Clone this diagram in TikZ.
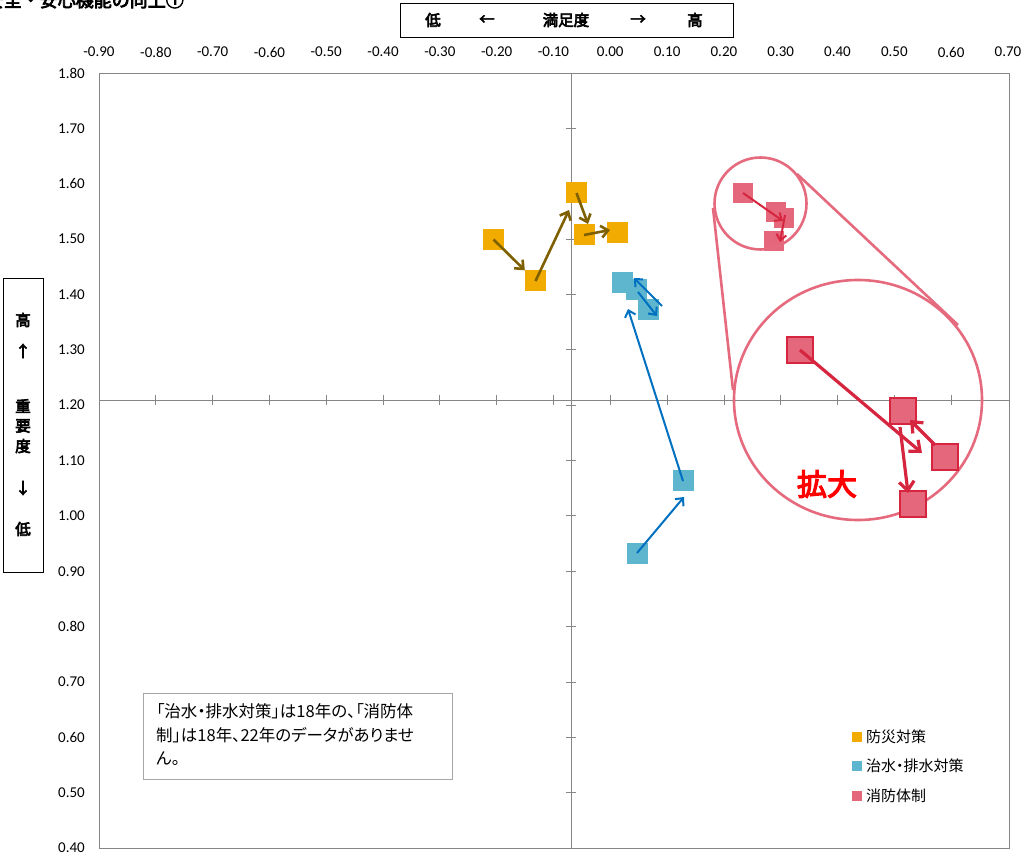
\documentclass[tikz,border=0pt]{standalone}
\usepackage{fontspec}
\setmainfont{Carlito}
\newfontfamily\jp{Noto Sans CJK JP}[AutoFakeBold=4]
\newfontfamily\jpp{Noto Sans CJK JP}[RawFeature=+palt]
\usetikzlibrary{arrows.meta,shapes.geometric}
\definecolor{orgfill}{HTML}{F2AB00}
\definecolor{orgarrow}{HTML}{7F6000}
\definecolor{bluefill}{HTML}{5DB5CE}
\definecolor{bluearrow}{HTML}{0070C0}
\definecolor{pinkfill}{HTML}{E5677C}
\definecolor{pinkline}{HTML}{E66A7E}
\definecolor{crimson}{HTML}{D6263F}
\definecolor{axisgray}{HTML}{868686}
\definecolor{boxgray}{HTML}{A6A6A6}
\begin{document}
\begin{tikzpicture}[x=1pt,y=-1pt,
  tick/.style={font=\fontsize{15}{18}\selectfont, inner sep=0pt},
  osq/.style={rectangle, fill=orgfill, minimum size=21pt, inner sep=0pt},
  bsq/.style={rectangle, fill=bluefill, minimum size=21pt, inner sep=0pt},
  psq/.style={rectangle, fill=pinkfill, minimum size=20pt, inner sep=0pt},
  qsq/.style={rectangle, fill=pinkfill, draw=crimson, line width=2.2pt, minimum size=26pt, inner sep=0pt},
  oarr/.style={draw=orgarrow, line width=2.6pt, -{Straight Barb[length=7pt,width=12pt]}},
  barr/.style={draw=bluearrow, line width=2pt, -{Straight Barb[length=6pt,width=11pt]}},
  parr/.style={draw=crimson, line width=2pt, -{Straight Barb[length=6pt,width=10pt]}},
  qarr/.style={draw=crimson, line width=3.2pt, -{Straight Barb[length=9pt,width=15pt]}},
  jtext/.style={font=\jpp\fontsize{16.5}{19}\selectfont, inner sep=0pt},
  ltext/.style={font=\jpp\fontsize{15}{18}\selectfont, inner sep=0pt, anchor=west},
  jbold/.style={font=\jp\bfseries\fontsize{15.5}{18}\selectfont, inner sep=0pt},
  lens/.style={draw=pinkline, line width=2.6pt}
]
\useasboundingbox (0,0) rectangle (1026,858);
\fill[white] (0,0) rectangle (1026,858);

% title (cut)
\node[inner sep=0pt, anchor=east, font=\jp\bfseries\fontsize{18}{20}\selectfont] (title) at (184,0) {安全・安心機能の向上①};

% header box
\node[draw=black, line width=0.8pt, minimum width=333pt, minimum height=34pt, inner sep=0pt] (hbox) at (566.5,20) {};
\node[jbold] (hlo) at (433,20) {低};
\node[jbold] (hla) at (487,20) {←};
\node[jbold] (hm) at (566,20) {満足度};
\node[jbold] (hra) at (638,20) {→};
\node[jbold] (hhi) at (695,20) {高};

% left box
\node[draw=black, line width=0.8pt, minimum width=40pt, minimum height=294pt, inner sep=0pt] (vbox) at (23,425) {};
\node[jbold] (vhi) at (23,320) {高};
\node[jbold] (vua) at (23,351) {↑};
\node[jbold] (v1) at (23,406) {重};
\node[jbold] (v2) at (23,426) {要};
\node[jbold] (v3) at (23,446) {度};
\node[jbold] (vda) at (23,488) {↓};
\node[jbold] (vlo) at (23,529) {低};

% plot frame
\draw[axisgray, line width=0.8pt] (99,73) rectangle (1009,848);

% axis tick labels
\foreach \i/\t in {0/-0.90,1/-0.80,2/-0.70,3/-0.60,4/-0.50,5/-0.40,6/-0.30,7/-0.20,8/-0.10,9/0.00,10/0.10,11/0.20,12/0.30,13/0.40,14/0.50,15/0.60,16/0.70}{
  \node[tick] (xl\i) at (99+\i*56.81,52) {\t};
}
\foreach \i/\t in {0/1.80,1/1.70,2/1.60,3/1.50,4/1.40,5/1.30,6/1.20,7/1.10,8/1.00,9/0.90,10/0.80,11/0.70,12/0.60,13/0.50,14/0.40}{
  \node[tick, anchor=east] (yl\i) at (85,73+\i*55.36) {\t};
}

% crossing axes
\draw[axisgray, line width=0.9pt] (571,73) -- (571,848);
\draw[axisgray, line width=0.9pt] (99,400) -- (1009,400);
\foreach \i in {1,...,15}{
  \draw[axisgray, line width=0.8pt] (99+\i*56.81,395) -- (99+\i*56.81,405);
}
\foreach \i in {1,...,13}{
  \draw[axisgray, line width=0.8pt] (566,73+\i*55.36) -- (576,73+\i*55.36);
}

% orange series
\node[osq] (a1) at (493.5,239.5) {};
\node[osq] (a2) at (535.5,281) {};
\node[osq] (a3) at (576.5,193) {};
\node[osq] (a4) at (584,235) {};
\node[osq] (a5) at (617,233) {};
\coordinate (a3in) at (569,210);
\coordinate (a4in) at (588,224);
\coordinate (a5in) at (610,230);
\draw[oarr] (a1.center) -- (a2.north west);
\draw[oarr] (a2.center) -- (a3in);
\draw[oarr] (a3.center) -- (a4in);
\draw[oarr] (a4.center) -- (a5in);

% blue series
\node[bsq] (b3) at (648,310) {};
\node[bsq] (b2) at (636,290) {};
\node[bsq] (b1) at (622,283) {};
\node[bsq] (b4) at (683,481) {};
\node[bsq] (b5) at (637,553) {};
\coordinate (c1s) at (638,292);
\coordinate (c1e) at (657,316);
\coordinate (c2s) at (662,306);
\coordinate (c2e) at (634,278);
\coordinate (c3e) at (628,309);
\coordinate (c4e) at (684,497);
\draw[barr] (c1s) -- (c1e);
\draw[barr] (c2s) -- (c2e);
\draw[barr] (b4.center) -- (c3e);
\draw[barr] (b5.center) -- (c4e);

% pink series (small)
\node[psq] (p1) at (743,193) {};
\node[psq] (p2) at (776,212) {};
\node[psq] (p3) at (784,218) {};
\node[psq] (p4) at (774,241) {};
\coordinate (p2in) at (783,221);
\coordinate (p3out) at (785,215);
\coordinate (p4in) at (780,242);
\draw[parr] (p1.center) -- (p2in);
\draw[parr] (p3out) -- (p4in);

% magnifier
\node[lens, circle, minimum size=92pt, inner sep=0pt] (smallc) at (760.5,203.5) {};
\node[lens, ellipse, minimum width=248pt, minimum height=240pt, inner sep=0pt] (bigc) at (858,400) {};
\coordinate (t1s) at (713,208);
\coordinate (t1e) at (733,390);
\coordinate (t2s) at (797,174);
\coordinate (t2e) at (958,325);
\draw[lens] (t1s) -- (t1e);
\draw[lens] (t2s) -- (t2e);

% pink enlarged
\node[qsq] (q1) at (800,350) {};
\node[qsq] (q2) at (903,411) {};
\node[qsq] (q3) at (945,457) {};
\node[qsq] (q4) at (913,504) {};
\coordinate (q1e) at (922,453);
\coordinate (q3s) at (935,445);
\coordinate (q2e) at (910,420);
\coordinate (q2s) at (900,427);
\coordinate (q4e) at (908,493);
\draw[qarr] (q1.center) -- (q1e);
\draw[qarr] (q3s) -- (q2e);
\draw[qarr] (q2s) -- (q4e);

\node[font=\jp\bfseries\fontsize{30}{32}\selectfont, text=red, inner sep=0pt] (kakudai) at (827,484) {拡大};

% note box
\node[draw=boxgray, line width=0.8pt, minimum width=309pt, minimum height=86pt, inner sep=0pt] (note) at (297.5,736) {};
\node[jtext, anchor=west] (n1) at (156,711) {「治水・排水対策」は18年の、「消防体};
\node[jtext, anchor=west] (n2) at (156,735) {制」は18年、22年のデータがありませ};
\node[jtext, anchor=west] (n3) at (156,759) {ん。};

% legend
\node[fill=orgfill, minimum size=10pt, inner sep=0pt] (lg1) at (857,737) {};
\node[fill=bluefill, minimum size=10pt, inner sep=0pt] (lg2) at (857,766) {};
\node[fill=pinkfill, minimum size=10pt, inner sep=0pt] (lg3) at (857,796) {};
\node[ltext] (lt1) at (866,737) {防災対策};
\node[ltext] (lt2) at (866,766) {治水・排水対策};
\node[ltext] (lt3) at (866,796) {消防体制};
\end{tikzpicture}
\end{document}
